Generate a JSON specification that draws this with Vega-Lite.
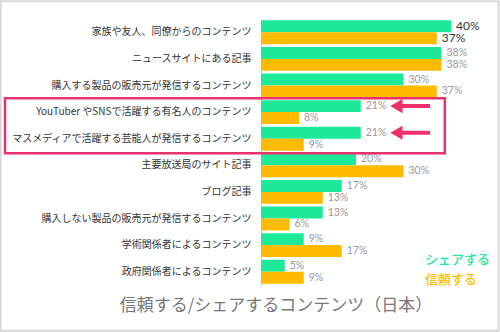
{
  "$schema": "https://vega.github.io/schema/vega-lite/v6.json",
  "width": 237.5,
  "height": 266,
  "autosize": {"type": "none"},
  "padding": {"left": 261, "top": 19, "right": 1.5, "bottom": 47},
  "background": "white",
  "config": {"view": {"stroke": null}, "font": "Noto Sans CJK JP"},
  "title": {"text": "信頼する/シェアするコンテンツ（日本）", "orient": "bottom", "anchor": "start", "frame": "bounds", "dx": 120, "offset": -34, "fontSize": 17, "fontWeight": "normal", "color": "#777"},
  "data": {"values": [
    {"cat": "家族や友人、同僚からのコンテンツ", "series": "シェアする", "value": 0.40},
    {"cat": "家族や友人、同僚からのコンテンツ", "series": "信頼する", "value": 0.37},
    {"cat": "ニュースサイトにある記事", "series": "シェアする", "value": 0.38},
    {"cat": "ニュースサイトにある記事", "series": "信頼する", "value": 0.38},
    {"cat": "購入する製品の販売元が発信するコンテンツ", "series": "シェアする", "value": 0.30},
    {"cat": "購入する製品の販売元が発信するコンテンツ", "series": "信頼する", "value": 0.37},
    {"cat": "YouTuber やSNSで活躍する有名人のコンテンツ", "series": "シェアする", "value": 0.21},
    {"cat": "YouTuber やSNSで活躍する有名人のコンテンツ", "series": "信頼する", "value": 0.08},
    {"cat": "マスメディアで活躍する芸能人が発信するコンテンツ", "series": "シェアする", "value": 0.21},
    {"cat": "マスメディアで活躍する芸能人が発信するコンテンツ", "series": "信頼する", "value": 0.09},
    {"cat": "主要放送局のサイト記事", "series": "シェアする", "value": 0.20},
    {"cat": "主要放送局のサイト記事", "series": "信頼する", "value": 0.30},
    {"cat": "ブログ記事", "series": "シェアする", "value": 0.17},
    {"cat": "ブログ記事", "series": "信頼する", "value": 0.13},
    {"cat": "購入しない製品の販売元が発信するコンテンツ", "series": "シェアする", "value": 0.13},
    {"cat": "購入しない製品の販売元が発信するコンテンツ", "series": "信頼する", "value": 0.06},
    {"cat": "学術関係者によるコンテンツ", "series": "シェアする", "value": 0.09},
    {"cat": "学術関係者によるコンテンツ", "series": "信頼する", "value": 0.17},
    {"cat": "政府関係者によるコンテンツ", "series": "シェアする", "value": 0.05},
    {"cat": "政府関係者によるコンテンツ", "series": "信頼する", "value": 0.09}
  ]},
  "layer": [
    {
      "mark": {"type": "bar"},
      "encoding": {
        "y": {"field": "cat", "type": "nominal", "sort": null, "scale": {"paddingInner": 0.1, "paddingOuter": 0.05},
          "axis": {"title": null, "ticks": false, "labelPadding": 10, "labelFontSize": 10, "labelColor": "#333", "domainColor": "#ccc", "domainWidth": 1, "labelLimit": 300}},
        "yOffset": {"field": "series", "type": "nominal", "sort": null},
        "x": {"field": "value", "type": "quantitative", "scale": {"domain": [0, 0.5], "nice": false}, "axis": null},
        "color": {"field": "series", "type": "nominal", "sort": null,
          "scale": {"domain": ["シェアする", "信頼する"], "range": ["#1de99b", "#ffbb00"]},
          "legend": {"title": null, "orient": "none", "legendX": 151, "legendY": 234, "symbolSize": 0, "symbolOpacity": 0, "symbolStrokeWidth": 0, "labelOffset": 0, "labelFontSize": 13, "labelFontWeight": 500, "rowPadding": 6,
            "encode": {"labels": {"update": {"fill": {"signal": "scale('color', datum.value)"}}}}}
        }
      }
    },
    {
      "mark": {"type": "text", "align": "left", "baseline": "middle", "dx": 5, "font": "Lato"},
      "encoding": {
        "y": {"field": "cat", "type": "nominal", "sort": null},
        "yOffset": {"field": "series", "type": "nominal", "sort": null},
        "x": {"field": "value", "type": "quantitative"},
        "text": {"field": "value", "type": "quantitative", "format": ".0%"},
        "color": {"condition": {"test": "datum.cat === '家族や友人、同僚からのコンテンツ'", "value": "#333"}, "value": "#999"},
        "size": {"condition": {"test": "datum.cat === '家族や友人、同僚からのコンテンツ'", "value": 12}, "value": 10.5}
      }
    },
    {
      "transform": [{"filter": "datum.cat === '家族や友人、同僚からのコンテンツ' && datum.series === 'シェアする'"}],
      "mark": {"type": "rect", "filled": false, "stroke": "#e8336d", "strokeWidth": 2.5, "yOffset": -2, "y2Offset": 2.5},
      "encoding": {
        "x": {"datum": -0.539},
        "x2": {"datum": 0.387},
        "y": {"datum": "YouTuber やSNSで活躍する有名人のコンテンツ", "bandPosition": 0},
        "y2": {"datum": "マスメディアで活躍する芸能人が発信するコンテンツ", "bandPosition": 1}
      }
    },
    {
      "transform": [{"filter": "datum.cat === '家族や友人、同僚からのコンテンツ' && datum.series === 'シェアする'"}],
      "mark": {"type": "rect", "filled": false, "stroke": "#d8d8d8", "strokeWidth": 2, "yOffset": -19, "y2Offset": 47},
      "encoding": {
        "x": {"datum": -0.548},
        "x2": {"datum": 0.5},
        "y": {"datum": "家族や友人、同僚からのコンテンツ", "bandPosition": 0},
        "y2": {"datum": "政府関係者によるコンテンツ", "bandPosition": 1}
      }
    },
    {
      "transform": [{"filter": "datum.series === 'シェアする' && (datum.cat === 'YouTuber やSNSで活躍する有名人のコンテンツ' || datum.cat === 'マスメディアで活躍する芸能人が発信するコンテンツ')"}],
      "mark": {"type": "rule", "color": "#f0306a", "strokeWidth": 4},
      "encoding": {
        "y": {"field": "cat", "type": "nominal", "sort": null},
        "yOffset": {"field": "series", "type": "nominal", "sort": null},
        "x": {"datum": 0.29},
        "x2": {"datum": 0.356}
      }
    },
    {
      "transform": [{"filter": "datum.series === 'シェアする' && (datum.cat === 'YouTuber やSNSで活躍する有名人のコンテンツ' || datum.cat === 'マスメディアで活躍する芸能人が発信するコンテンツ')"}],
      "mark": {"type": "point", "shape": "triangle-left", "filled": true, "color": "#f0306a", "size": 200, "opacity": 1},
      "encoding": {
        "y": {"field": "cat", "type": "nominal", "sort": null},
        "yOffset": {"field": "series", "type": "nominal", "sort": null},
        "x": {"datum": 0.285}
      }
    }
  ]
}
